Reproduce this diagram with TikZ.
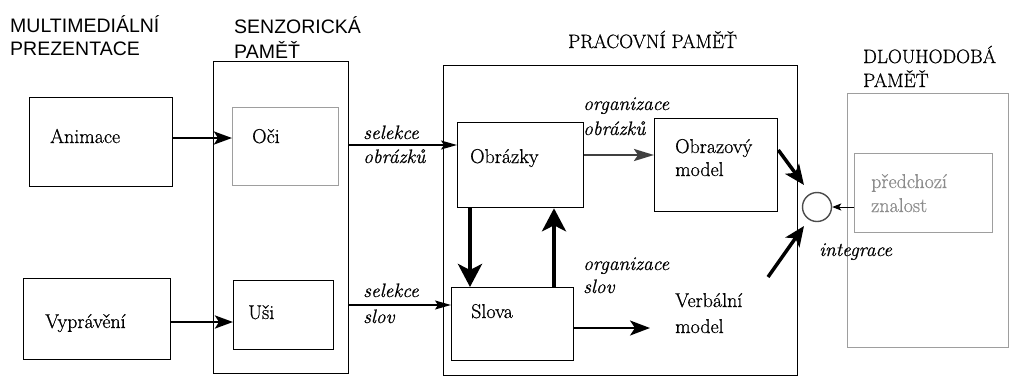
\documentclass[tikz,border=0pt]{standalone}
\usepackage{fontspec}
\newfontfamily\sansf{Liberation Sans}
\newfontfamily\serf{Latin Modern Roman}[UprightFeatures={FakeBold=0.7}, ItalicFeatures={FakeBold=0.7}]
\usetikzlibrary{arrows.meta}
\definecolor{boxgray}{gray}{0.62}
\definecolor{txtgray}{gray}{0.55}
\definecolor{circgray}{gray}{0.3}
\begin{document}
\begin{tikzpicture}[x=1pt,y=-1pt,
  box/.style={draw, line width=1.3pt, inner sep=0pt, anchor=north west},
  gbox/.style={box, draw=boxgray},
  lbl/.style={anchor=base west, inner sep=0pt, font=\fontsize{20}{24}\selectfont\serf},
  hlbl/.style={anchor=base west, inner sep=0pt, font=\fontsize{19.3}{24}\selectfont\serf},
  ilbl/.style={anchor=base west, inner sep=0pt, font=\fontsize{19.5}{24}\selectfont\serf\itshape},
  slbl/.style={anchor=base west, inner sep=0pt, font=\fontsize{19.5}{23}\selectfont\sansf},
  medarrow/.style={line width=2.8pt, -{Stealth[length=18pt,width=13pt,inset=4pt]}},
  thinarrow/.style={line width=1.5pt, -{Stealth[length=16pt,width=9pt,inset=3pt]}},
  thickarrow/.style={line width=4pt, -{Stealth[length=23pt,width=24pt,inset=6pt]}},
  diagarrow/.style={line width=3.5pt, -{Stealth[length=20pt,width=17pt,inset=5pt]}}
]
\useasboundingbox (0,0) rectangle (1018,376);

% column headings
\node[slbl] (h1a) at (10,32) {MULTIMEDIÁLNÍ};
\node[slbl] (h1b) at (10,55) {PREZENTACE};
\node[slbl] (h2a) at (234,33) {SENZORICKÁ};
\node[slbl] (h2b) at (234,58) {PAMĚŤ};
\node[hlbl] (h3) at (568,48) {PRACOVNÍ PAMĚŤ};
\node[hlbl] (h4a) at (863,63) {DLOUHODOBÁ};
\node[hlbl] (h4b) at (863,87) {PAMĚŤ};

% outer boxes
\node[box, minimum width=135pt, minimum height=312pt] (sens) at (213,61) {};
\node[box, minimum width=354pt, minimum height=310pt] (wm) at (443,65) {};
\node[gbox, minimum width=161pt, minimum height=254pt] (ltm) at (847,93) {};

% inner boxes
\node[box, minimum width=143pt, minimum height=89pt] (anim) at (29,97) {};
\node[box, minimum width=147pt, minimum height=81pt] (vypr) at (23,278) {};
\node[gbox, minimum width=106pt, minimum height=78pt] (oci) at (232,107) {};
\node[box, minimum width=100pt, minimum height=69pt] (usi) at (233,280) {};
\node[box, minimum width=126pt, minimum height=85pt] (obr) at (457,122) {};
\node[box, minimum width=123pt, minimum height=93pt] (obrmod) at (654,118) {};
\node[box, minimum width=122pt, minimum height=73pt] (slova) at (451,287) {};
\node[gbox, minimum width=138pt, minimum height=79pt] (pred) at (854,153) {};
\node[draw=circgray, line width=1.4pt, circle, minimum size=29pt, inner sep=0pt] (integ) at (817,207) {};

% box texts
\node[lbl] (tanim) at (50,143) {Animace};
\node[lbl] (tvypr) at (45,328) {Vyprávění};
\node[lbl] (toci) at (252,143) {Oči};
\node[lbl] (tusi) at (248,319) {Uši};
\node[lbl] (tobr) at (470,163) {Obrázky};
\node[lbl] (tobrmod1) at (675,153) {Obrazový};
\node[lbl] (tobrmod2) at (675,176) {model};
\node[lbl] (tslova) at (471,318) {Slova};
\node[lbl] (tverb1) at (675,307) {Verbální};
\node[lbl] (tverb2) at (675,333) {model};
\node[lbl, text=txtgray] (tpred1) at (871,188) {předchozí};
\node[lbl, text=txtgray] (tpred2) at (871,212) {znalost};

% connector labels
\node[ilbl] (ls1) at (363,139) {selekce};
\node[ilbl] (ls2) at (363,163) {obrázků};
\node[ilbl] (ls3) at (363,297) {selekce};
\node[ilbl] (ls4) at (363,323) {slov};
\node[ilbl] (lo1) at (583,110) {organizace};
\node[ilbl] (lo2) at (583,135) {obrázků};
\node[ilbl] (lo3) at (583,270) {organizace};
\node[ilbl] (lo4) at (583,293) {slov};
\node[ilbl] (lint) at (819,256) {integrace};

% free ends
\coordinate (verbend) at (650,328);
\coordinate (diagstart) at (768,277);
\coordinate (in1) at (804,185);
\coordinate (in2) at (804,226);

% connectors
\draw[medarrow] (anim.east |- 0,138) -- (oci.west |- 0,138);
\draw[medarrow] (vypr.east |- 0,322) -- (usi.west |- 0,322);
\draw[thinarrow] (sens.east |- 0,145) -- (obr.west |- 0,145);
\draw[thinarrow] (sens.east |- 0,305) -- (slova.west |- 0,305);
\draw[line width=2.6pt, draw=black!75, -{Stealth[length=20pt,width=12pt,inset=4pt]}] (obr.east |- 0,155) -- (obrmod.west |- 0,155);
\draw[line width=2.2pt, -{Stealth[length=20pt,width=15pt,inset=5pt]}] (slova.east |- 0,328) -- (verbend);
\draw[thickarrow] (obr.south -| 470,0) -- (slova.north -| 470,0);
\draw[thickarrow] (slova.north -| 554,0) -- (obr.south -| 554,0);
\draw[diagarrow] (obrmod.east |- 0,150) -- (in1);
\draw[diagarrow] (diagstart) -- (in2);
\draw[line width=1pt, -{Stealth[length=9pt,width=7pt,inset=2pt]}] (pred.west |- 0,207) -- (integ.east);
\end{tikzpicture}
\end{document}
